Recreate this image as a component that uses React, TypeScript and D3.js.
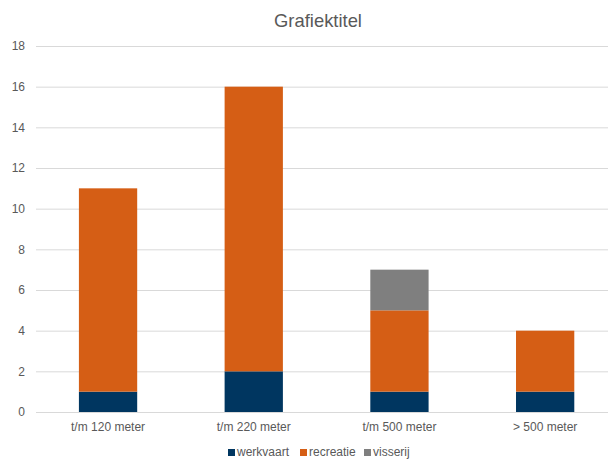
import React from "react";
import * as d3 from "d3";

const categories = ["t/m 120 meter", "t/m 220 meter", "t/m 500 meter", "> 500 meter"];
const werkvaart = [1, 2, 1, 1];
const recreatie = [10, 14, 4, 3];
const visserij = [0, 0, 2, 0];
const yTicks = [0, 2, 4, 6, 8, 10, 12, 14, 16, 18];
const seriesNames = ["werkvaart", "recreatie", "visserij"];
const seriesColors = ["#003660", "#D55E15", "#7F7F7F"];

const W = 608;
const H = 459;
const margin = { left: 35.2, right: -10, top: 46, bottom: 47 };

export default function App() {
  const x = d3
    .scaleBand<string>()
    .domain(categories)
    .range([margin.left, W - margin.right])
    .paddingInner(0.6)
    .paddingOuter(0.3);
  const y = d3.scaleLinear().domain([0, 18]).range([H - margin.bottom, margin.top]);

  const rows = categories.map((c, i) => ({
    cat: c,
    werkvaart: werkvaart[i],
    recreatie: recreatie[i],
    visserij: visserij[i],
  }));
  const stack = d3.stack<any>().keys(seriesNames)(rows);

  const font = "'Liberation Sans', Arial, sans-serif";
  const legendX = [228, 300, 364];

  return (
    <svg
      width={W}
      height={H}
      style={{ position: "absolute", left: 0, top: 0, background: "#fff" }}
      fontFamily={font}
    >
      <text x={318} y={27} textAnchor="middle" fontSize={18.4} fill="#595959">
        Grafiektitel
      </text>
      {yTicks.map((t) => (
        <g key={t}>
          <line x1={36} x2={W} y1={y(t) + 0.5} y2={y(t) + 0.5} stroke="#D9D9D9" strokeWidth={1} />
          <text x={25} y={y(t)} dy="0.35em" textAnchor="end" fontSize={12} fill="#595959">
            {t}
          </text>
        </g>
      ))}
      {stack.map((s, si) => (
        <g key={s.key} fill={seriesColors[si]}>
          {s.map((d, i) =>
            d[1] - d[0] > 0 ? (
              <rect
                key={i}
                x={x(categories[i])!}
                width={x.bandwidth()}
                y={y(d[1])}
                height={y(d[0]) - y(d[1])}
              />
            ) : null
          )}
        </g>
      ))}
      <line x1={36} x2={W} y1={y(0) + 0.5} y2={y(0) + 0.5} stroke="#D9D9D9" strokeWidth={1} />
      {categories.map((c) => (
        <text
          key={c}
          x={x(c)! + x.bandwidth() / 2}
          y={431}
          textAnchor="middle"
          fontSize={12}
          fill="#595959"
        >
          {c}
        </text>
      ))}
      {seriesNames.map((n, i) => (
        <g key={n}>
          <rect x={legendX[i]} y={449} width={7} height={7} fill={seriesColors[i]} />
          <text x={legendX[i] + 9} y={456} fontSize={12} fill="#595959">
            {n}
          </text>
        </g>
      ))}
    </svg>
  );
}
